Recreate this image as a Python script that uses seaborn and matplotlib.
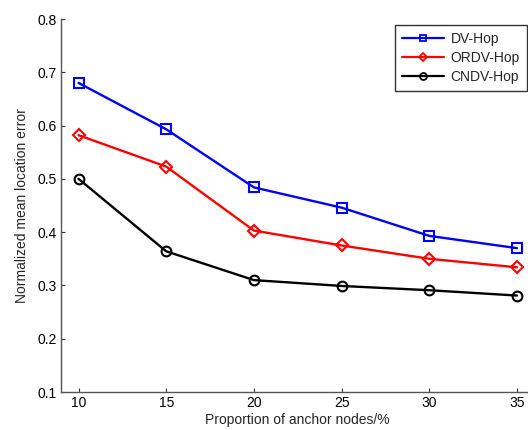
import matplotlib
matplotlib.use("Agg")
import matplotlib.pyplot as plt
import seaborn as sns
import pandas as pd
from matplotlib.lines import Line2D

proportion = [10, 15, 20, 25, 30, 35]
dv_hop = [0.680, 0.593, 0.484, 0.446, 0.393, 0.370]
ordv_hop = [0.582, 0.523, 0.403, 0.375, 0.350, 0.334]
cndv_hop = [0.500, 0.364, 0.310, 0.299, 0.291, 0.281]
series_names = ["DV-Hop", "ORDV-Hop", "CNDV-Hop"]
yticks = [0.1, 0.2, 0.3, 0.4, 0.5, 0.6, 0.7, 0.8]

sns.set_theme(style="ticks")
plt.rcParams["font.family"] = ["Liberation Sans", "DejaVu Sans"]
plt.rcParams["xtick.direction"] = "in"
plt.rcParams["ytick.direction"] = "in"

FS = 10

df = pd.DataFrame({
    "x": proportion * 3,
    "y": dv_hop + ordv_hop + cndv_hop,
    "method": [n for n in series_names for _ in proportion],
})

fig = plt.figure(figsize=(5.28, 4.30), dpi=100)
ax = fig.add_axes([61 / 528, 38 / 430, (534.5 - 61) / 528, (392 - 19) / 430])

palette = {"DV-Hop": "#0000ff", "ORDV-Hop": "#ff0000", "CNDV-Hop": "#000000"}
markers = {"DV-Hop": "s", "ORDV-Hop": "D", "CNDV-Hop": "o"}
sns.lineplot(data=df, x="x", y="y", hue="method", style="method",
             palette=palette, markers=markers, dashes=False, ax=ax,
             linewidth=1.7, markersize=7, markerfacecolor="none",
             markeredgewidth=1.5, legend=False)

# open markers; diamonds drawn a bit smaller
for line, name in zip(ax.lines, series_names):
    line.set_markerfacecolor("none")
    line.set_markeredgecolor(palette[name])
    if name == "ORDV-Hop":
        line.set_markersize(6)

ax.set_xlim(9, 36)
ax.set_ylim(0.1, 0.8)
ax.set_xticks(proportion)
ax.set_yticks(yticks)
ax.set_yticklabels([f"{t:.1f}" for t in yticks])
ax.tick_params(labelsize=FS, length=3, width=0.8, colors="#333333",
               labelcolor="black", pad=3)
for s in ["top", "right"]:
    ax.spines[s].set_visible(False)
for s in ["left", "bottom"]:
    ax.spines[s].set_color("#555555")
    ax.spines[s].set_linewidth(1.0)

ax.set_xlabel("Proportion of anchor nodes/%", fontsize=FS, labelpad=2)
ax.set_ylabel("Normalized mean location error", fontsize=FS, labelpad=6)

handles = [Line2D([], [], color=palette[n], marker=markers[n], lw=1.6,
                  markersize=5 if n != "ORDV-Hop" else 4.5,
                  markerfacecolor="none", markeredgewidth=1.3)
           for n in series_names]
leg = ax.legend(handles, series_names, loc="upper left",
                bbox_to_anchor=(395 / 528, 1 - 25 / 430),
                bbox_transform=fig.transFigure, fontsize=FS,
                frameon=True, fancybox=False, handlelength=3.0,
                borderpad=0.5, labelspacing=0.35, handletextpad=0.5,
                borderaxespad=0)
leg.get_frame().set_edgecolor("black")
leg.get_frame().set_linewidth(1.0)

fig.savefig("out.png", dpi=100, facecolor="white")
